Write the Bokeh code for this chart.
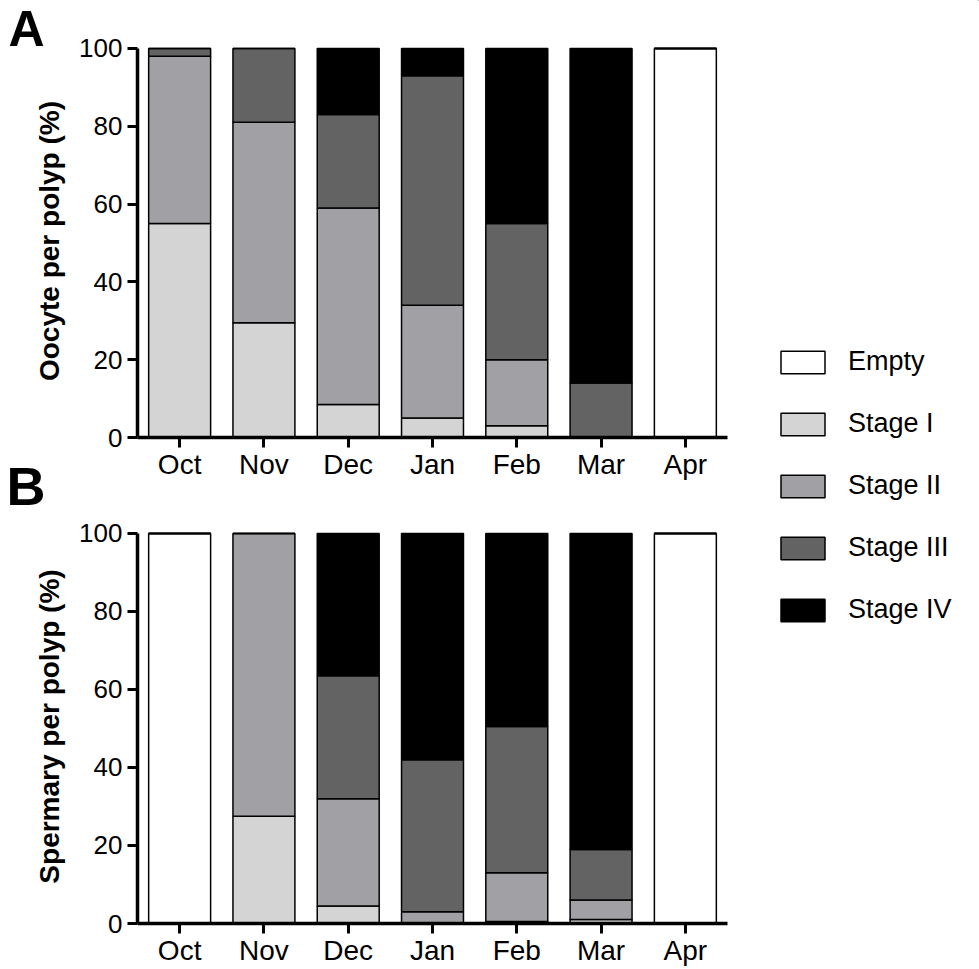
from bokeh.plotting import figure
from bokeh.models import Range1d, FixedTicker, Legend, LegendItem, ColumnDataSource, Title
from bokeh.layouts import row, column
from bokeh.embed import file_html
from bokeh.resources import INLINE

months = ["Oct", "Nov", "Dec", "Jan", "Feb", "Mar", "Apr"]
stages = ["Empty", "Stage I", "Stage II", "Stage III", "Stage IV"]
colors = ["#ffffff", "#d4d4d4", "#a1a1a5", "#636363", "#000000"]
y_ticks = [0, 20, 40, 60, 80, 100]

# Panel A: oocytes (% per polyp)
empty_a = [0, 0, 0, 0, 0, 0, 100]
s1_a = [55, 29.5, 8.5, 5, 3, 0, 0]
s2_a = [43, 51.5, 50.5, 29, 17, 0, 0]
s3_a = [2, 19, 24, 59, 35, 14, 0]
s4_a = [0, 0, 17, 7, 45, 86, 0]

# Panel B: spermaries (% per polyp)
empty_b = [100, 0, 0, 0, 0, 0, 100]
s1_b = [0, 27.5, 4.5, 0, 0.5, 1, 0]
s2_b = [0, 72.5, 27.5, 3, 12.5, 5, 0]
s3_b = [0, 0, 31.5, 39, 37.5, 13, 0]
s4_b = [0, 0, 36.5, 58, 49.5, 81, 0]

FONT = "Liberation Sans"


def style_title(t, size, offset, standoff, valign):
    t.align = "left"
    t.offset = offset
    t.standoff = standoff
    t.vertical_align = valign
    t.text_font = FONT
    t.text_font_style = "bold"
    t.text_font_size = size
    t.text_color = "black"


def make_panel(vals, ylabel, height, top, bottom):
    src = ColumnDataSource(dict(month=months, **{s: v for s, v in zip(stages, vals)}))
    p = figure(x_range=months, y_range=Range1d(0, 101), width=740, height=height,
               output_backend="svg", toolbar_location=None,
               min_border_left=137, min_border_right=13,
               min_border_top=top, min_border_bottom=bottom)
    p.vbar_stack(stages, x="month", width=0.735, source=src,
                 fill_color=colors, line_color="black", line_width=1.5)
    p.outline_line_color = None
    p.grid.visible = False
    p.background_fill_color = "white"
    for ax in (p.xaxis, p.yaxis):
        ax.axis_line_width = 3.5
        ax.axis_line_color = "black"
        ax.major_tick_line_width = 3
        ax.major_tick_line_color = "black"
        ax.major_tick_out = 10
        ax.major_tick_in = 0
        ax.minor_tick_line_color = None
        ax.major_label_text_font = FONT
        ax.major_label_text_color = "black"
    p.xaxis.major_label_text_font_size = "28px"
    p.xaxis.major_label_standoff = 1
    p.yaxis.major_label_text_font_size = "26px"
    p.yaxis.major_label_standoff = 5
    p.yaxis.ticker = FixedTicker(ticks=y_ticks)
    p.yaxis.bounds = (0, 100)
    p.yaxis.axis_label = ylabel
    p.yaxis.axis_label_text_font = FONT
    p.yaxis.axis_label_text_font_style = "bold"
    p.yaxis.axis_label_text_font_size = "28px"
    p.yaxis.axis_label_text_color = "black"
    p.yaxis.axis_label_standoff = 11
    return p


pA = make_panel([empty_a, s1_a, s2_a, s3_a, s4_a], "Oocyte per polyp (%)", 518, 44, 81)
pA.title.text = "A"
style_title(pA.title, "50px", -129, -25, "bottom")
# panel letter "B" sits beside panel A's month labels, so it lives in panel A's bottom margin
titleB = Title(text="B")
style_title(titleB, "54px", -131, -53, "top")
pA.add_layout(titleB, "below")

pB = make_panel([empty_b, s1_b, s2_b, s3_b, s4_b], "Spermary per polyp (%)", 451, 11, 46)

# Legend panel
pL = figure(width=239, height=969, x_range=Range1d(0, 1), y_range=Range1d(0, 1),
            output_backend="svg", toolbar_location=None,
            x_axis_location=None, y_axis_location=None, min_border=0)
pL.outline_line_color = None
pL.grid.visible = False
items = []
for s, c in zip(stages, colors):
    # placeholder renderer outside the visible range; only used for its legend swatch
    r = pL.vbar(x=[5], top=[5], bottom=[4], width=0.5, fill_color=c,
                line_color="black", line_width=1.5)
    items.append(LegendItem(label=s, renderers=[r]))
leg = Legend(items=items, location=(35, 344), glyph_width=55, glyph_height=28,
             label_standoff=18, spacing=31, padding=0, margin=0,
             border_line_color=None, background_fill_alpha=0,
             label_text_font=FONT, label_text_font_size="27px", label_text_color="black")
pL.add_layout(leg)

layout = row(column(pA, pB), pL)
open("out.html", "w").write(file_html(layout, INLINE))
